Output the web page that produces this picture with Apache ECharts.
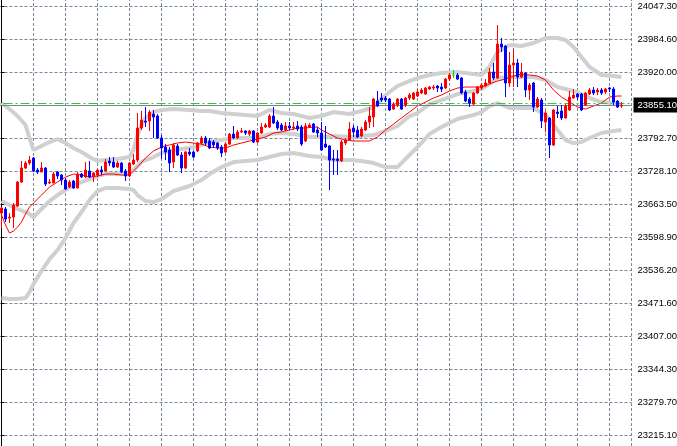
<!DOCTYPE html>
<html><head><meta charset="utf-8">
<script src="https://cdn.jsdelivr.net/npm/echarts@6/dist/echarts.min.js"></script>
<style>html,body{margin:0;padding:0;background:#fff;overflow:hidden}#c{width:677px;height:446px}</style>
</head><body><div id="c"></div>
<script>
// ---- candles (bar index = position in arrays) ----
const opens = [23645.7,23653.5,23636.0,23637.9,23659.3,23705.8,23733.0,23742.7,23752.4,23729.1,
23725.2,23733.0,23703.9,23703.9,23725.2,23719.4,23709.7,23696.1,23707.8,23694.2,
23721.3,23715.5,23727.2,23717.5,23719.4,23729.1,23727.2,23746.6,23744.6,23734.9,
23742.7,23727.2,23717.5,23740.7,23748.5,23810.6,23824.2,23824.2,23837.7,23833.9,
23791.2,23773.7,23767.9,23744.6,23775.7,23758.2,23733.0,23764.0,23764.0,23766.0,
23781.5,23791.2,23785.4,23783.4,23781.5,23773.7,23764.0,23779.5,23798.9,23791.2,
23802.8,23804.8,23798.9,23804.8,23783.4,23800.9,23812.5,23812.5,23833.9,23822.2,
23816.4,23806.7,23814.5,23810.6,23814.5,23812.5,23785.4,23812.5,23818.3,23806.7,
23800.9,23779.5,23775.7,23750.4,23750.4,23746.6,23781.5,23787.3,23810.6,23806.7,
23795.1,23806.7,23822.2,23831.9,23863.0,23868.8,23868.8,23866.8,23847.4,23855.2,
23866.8,23855.2,23868.8,23866.8,23872.7,23878.5,23876.5,23886.3,23888.2,23892.1,
23890.1,23888.2,23905.6,23913.4,23913.4,23907.6,23880.4,23866.8,23857.1,23878.5,
23888.2,23892.1,23897.9,23919.2,23907.6,23973.5,23969.7,23897.9,23932.8,23936.7,
23909.5,23917.3,23884.3,23897.9,23851.3,23864.9,23822.2,23830.0,23777.6,23841.6,
23843.6,23830.0,23845.5,23868.8,23876.5,23876.5,23855.2,23876.5,23884.3,23880.4,
23884.3,23880.4,23888.2,23886.3,23863.0,23853.3];
const closes = [23655.4,23634.0,23637.9,23661.2,23705.8,23733.0,23742.7,23748.5,23727.2,23725.2,
23733.0,23701.9,23705.8,23721.3,23717.5,23709.7,23692.3,23705.8,23694.2,23721.3,
23715.5,23729.1,23715.5,23723.3,23729.1,23725.2,23744.6,23742.7,23734.9,23742.7,
23725.2,23717.5,23742.7,23748.5,23810.6,23826.1,23822.2,23841.6,23831.9,23791.2,
23771.8,23764.0,23742.7,23777.6,23758.2,23733.0,23764.0,23760.1,23754.3,23781.5,
23791.2,23781.5,23771.8,23777.6,23771.8,23762.1,23779.5,23798.9,23791.2,23802.8,
23804.8,23800.9,23804.8,23783.4,23800.9,23812.5,23816.4,23833.9,23820.3,23810.6,
23806.7,23814.5,23810.6,23812.5,23808.6,23779.5,23814.5,23816.4,23802.8,23800.9,
23767.9,23773.7,23748.5,23748.5,23747.5,23783.4,23787.3,23808.6,23802.8,23793.1,
23808.6,23822.2,23833.9,23866.8,23853.3,23864.9,23864.9,23845.5,23857.1,23866.8,
23847.4,23868.8,23874.6,23878.5,23880.4,23884.3,23888.2,23890.1,23890.1,23888.2,
23886.3,23905.6,23913.4,23913.4,23905.6,23878.5,23863.0,23859.1,23878.5,23890.1,
23894.0,23897.9,23919.2,23907.6,23973.5,23967.7,23897.9,23932.8,23936.7,23909.5,
23919.2,23884.3,23894.0,23851.3,23866.8,23824.2,23839.7,23777.6,23845.5,23838.7,
23830.0,23853.3,23870.7,23874.6,23870.7,23845.5,23878.5,23884.3,23878.5,23884.3,
23878.5,23886.3,23886.3,23861.0,23851.3,23855.1];
const lows = [23616.6,23628.2,23626.3,23616.6,23657.3,23703.9,23731.1,23738.8,23725.2,23721.3,
23725.2,23698.1,23701.9,23703.9,23711.6,23700.0,23690.3,23694.2,23692.3,23694.2,
23713.6,23713.6,23713.6,23705.8,23715.5,23719.4,23727.2,23736.9,23733.0,23733.0,
23723.3,23707.8,23715.5,23738.8,23744.6,23806.7,23812.5,23804.8,23791.2,23789.3,
23750.4,23748.5,23725.2,23733.0,23756.3,23723.3,23731.1,23756.3,23752.4,23764.0,
23777.6,23777.6,23769.8,23771.8,23767.9,23754.3,23762.1,23777.6,23789.3,23789.3,
23800.9,23797.0,23795.1,23781.5,23781.5,23798.9,23810.6,23810.6,23818.3,23806.7,
23804.8,23804.8,23806.7,23806.7,23804.8,23775.7,23783.4,23810.6,23800.9,23793.1,
23766.0,23771.8,23690.3,23719.4,23719.4,23744.6,23777.6,23785.4,23793.1,23791.2,
23793.1,23804.8,23810.6,23812.5,23851.3,23861.0,23861.0,23843.6,23845.5,23851.3,
23845.5,23851.3,23864.9,23864.9,23870.7,23876.5,23874.6,23884.3,23884.3,23880.4,
23880.4,23886.3,23901.8,23907.6,23903.7,23876.5,23861.0,23851.3,23855.2,23876.5,
23884.3,23890.1,23896.0,23903.7,23905.6,23958.0,23870.7,23890.1,23890.1,23890.1,
23907.6,23870.7,23864.9,23841.6,23849.4,23810.6,23802.8,23752.4,23775.7,23830.0,
23826.1,23829.0,23843.6,23867.8,23864.9,23843.6,23853.3,23874.6,23874.6,23874.6,
23874.6,23876.5,23880.4,23855.2,23849.4,23849.4];
const highs = [23657.3,23657.3,23645.7,23665.1,23707.8,23746.6,23746.6,23756.3,23754.3,23733.0,
23744.6,23734.9,23711.6,23725.2,23727.2,23721.3,23713.6,23709.7,23709.7,23725.2,
23723.3,23744.6,23746.6,23725.2,23731.1,23736.9,23750.4,23754.3,23754.3,23746.6,
23744.6,23731.1,23744.6,23760.1,23839.7,23843.6,23851.3,23845.5,23845.5,23837.7,
23797.0,23779.5,23773.7,23781.5,23779.5,23764.0,23765.9,23771.8,23766.0,23783.4,
23795.1,23795.1,23791.2,23787.3,23783.4,23777.6,23783.4,23800.9,23814.5,23806.7,
23810.6,23806.7,23806.7,23806.7,23802.8,23820.3,23820.3,23837.7,23851.3,23826.1,
23820.3,23822.2,23822.2,23822.2,23824.2,23816.4,23820.3,23820.3,23820.3,23812.5,
23822.2,23814.5,23777.6,23767.9,23767.9,23787.3,23791.2,23822.2,23816.4,23814.5,
23812.5,23826.1,23851.3,23868.8,23882.4,23878.5,23872.7,23868.8,23861.0,23868.8,
23868.8,23870.7,23878.5,23880.4,23886.3,23888.2,23890.1,23892.1,23894.0,23894.0,
23897.9,23907.6,23917.3,23923.1,23917.3,23909.5,23884.3,23870.7,23880.4,23892.1,
23897.9,23905.6,23927.0,23936.7,24010.4,23985.2,23971.6,23958.0,23963.8,23944.5,
23936.7,23919.2,23897.9,23899.8,23870.7,23868.8,23843.6,23831.9,23847.4,23853.3,
23855.2,23857.1,23882.4,23886.3,23878.5,23878.5,23880.4,23888.2,23890.1,23888.2,
23888.2,23888.2,23890.1,23890.1,23864.9,23861.0];

// ---- red moving average (read at these bar indices) ----
const maIdx = [0,1,2,3,4,5,6,7,8,10,12,14,16,18,20,22,24,26,28,30,32,33,34,
36,38,40,42,44,46,48,50,52,54,56,58,60,62,64,66,68,70,72,74,76,78,79,80,
82,84,86,88,90,92,93,94,96,98,100,102,104,106,108,110,112,114,116,118,120,
122,124,126,128,130,132,134,136,138,140,142,144,146,148,150,152,154,155];
const maVals = [23641.8,23622.4,23606.9,23610.8,23618.5,23628.2,23643.7,23657.3,23665.1,
23680.6,23696.1,23705.8,23715.5,23721.3,23719.4,23715.5,23717.5,23721.3,23721.3,23719.4,23719.4,
23727.2,23734.9,
23752.4,23766.0,23773.7,23777.6,23781.5,23783.4,23781.5,23779.5,23773.7,23771.8,23771.8,23777.6,
23781.5,23785.4,23789.3,23793.1,23800.9,23802.8,23806.7,23810.6,23810.6,23812.5,
23812.5,23806.7,
23798.9,23791.2,23787.3,23785.4,23785.4,23785.4,
23789.3,23793.1,
23806.7,23818.3,23830.0,23841.6,23853.3,23861.0,23868.8,23874.6,23882.4,23888.2,23890.1,23890.1,
23890.1,23896.0,23901.8,23905.6,23911.5,23915.3,23913.4,23911.5,23903.7,23884.3,23870.7,23861.0,
23851.3,23847.4,23853.3,23859.1,23870.7,23872.7,23872.7];

// ---- Bollinger bands (read at these bar indices) ----
const bandIdx = [0,2,4,6,7,8,10,12,14,16,18,20,22,24,26,29,32,33,34,35,36,38,40,43,
47,50,52,55,58,64,67,70,73,77,80,83,87,90,93,96,99,102,104,107,110,114,118,120,122,124,127,
130,133,136,139,141,143,145,147,150,153,155];
const upperVals = [23859.1,23847.4,23833.9,23816.4,23791.2,23767.9,
23775.7,23783.4,23789.3,23781.5,23771.8,23764.0,23754.3,23746.6,23748.5,
23750.4,23754.3,23767.9,23797.0,23816.4,23830.0,23841.6,23845.5,23847.4,
23845.5,23843.6,23843.6,23839.7,23837.7,23833.9,23845.5,23839.7,23837.7,
23830.0,23833.9,23841.6,23837.7,23843.6,23851.3,23874.6,23892.1,23901.8,
23907.6,23913.4,23917.3,23919.2,23915.3,23913.4,23928.9,23958.0,23971.6,
23969.7,23975.5,23985.2,23985.2,23981.3,23967.7,23948.3,23928.9,23913.4,
23911.5,23909.5];
const middleVals = [23668.9,23661.2,23653.5,23647.6,23643.7,23637.9,
23653.5,23668.9,23680.6,23690.3,23700.0,23705.8,23711.6,23717.5,23721.3,
23721.3,23723.3,23729.1,23736.9,23744.6,23748.5,23754.3,23762.1,23767.9,
23771.8,23777.6,23783.4,23787.3,23791.2,23791.2,23798.9,23800.9,23798.9,
23793.1,23793.1,23795.1,23793.1,23795.1,23797.0,23804.8,23814.5,23833.9,
23839.7,23857.1,23864.9,23876.5,23882.4,23886.3,23896.0,23907.6,23909.5,
23909.5,23909.5,23903.7,23890.1,23886.3,23882.4,23876.5,23868.8,23861.0,
23859.1,23857.1];
const lowerVals = [23480.8,23478.9,23478.9,23480.8,23492.4,23507.9,
23533.2,23556.4,23573.9,23597.2,23626.3,23647.6,23670.9,23688.4,23694.2,
23694.2,23692.3,23690.3,23680.6,23674.8,23668.9,23667.0,23672.8,23688.4,
23698.1,23709.7,23721.3,23734.9,23744.6,23748.5,23754.3,23760.1,23762.1,
23756.3,23754.3,23748.5,23748.5,23746.6,23742.7,23734.9,23734.9,23758.2,
23773.7,23798.9,23812.5,23828.1,23835.8,23841.6,23853.3,23859.1,23849.4,
23849.4,23849.4,23835.8,23806.7,23787.3,23781.5,23783.4,23791.2,23800.9,
23804.8,23806.7];

// ---- price axis tick labels (top to bottom) ----
const tickLabels = ['24047.30','23984.60','23920.00','23855.10','23792.70','23728.10','23663.50',
'23598.90','23536.20','23471.60','23407.00','23344.30','23279.70','23215.10'];
const bidPrice = 23855.10;
const askPrice = 23858.5;

// ---- build ----
const topTick = parseFloat(tickLabels[0]);
const bottomTick = parseFloat(tickLabels[tickLabels.length - 1]);
const step = (topTick - bottomTick) / (tickLabels.length - 1);

const candleData = opens.map((o, i) => [i, o, closes[i], lows[i], highs[i]]);
const pairs = (idx, vals) => idx.map((x, k) => [x, vals[k]]);

const FONT = '"Liberation Sans", Arial, sans-serif';
const GRID_COLOR = '#778899';
const BAND_STYLE = { color: '#d0d0d0', width: 4 };

const chart = echarts.init(document.getElementById('c'), null, { renderer: 'canvas' });
chart.setOption({
  animation: false,
  backgroundColor: '#ffffff',
  grid: { left: -30.5, right: 45.5, top: -27, bottom: -22, containLabel: false, outerBoundsMode: 'none' },
  xAxis: {
    type: 'value', min: -8, max: 157.5, interval: 8,
    axisLine: { show: false }, axisTick: { show: false }, axisLabel: { show: false },
    splitLine: { show: true, lineStyle: { color: GRID_COLOR, type: [3, 2], width: 1 } }
  },
  yAxis: {
    type: 'value', position: 'right',
    min: bottomTick - step, max: topTick + step, interval: step,
    axisLine: { show: true, lineStyle: { color: '#000', width: 1 } },
    axisTick: { show: true, inside: false, length: 3, lineStyle: { color: '#000' } },
    axisLabel: {
      margin: 6, color: '#000', fontFamily: FONT, fontSize: 9.5,
      formatter: function (v) {
        const k = Math.round((topTick - v) / step);
        if (k < 0 || k >= tickLabels.length) return '';
        if (Math.abs(v - bidPrice) < step / 2) return '';
        return tickLabels[k];
      }
    },
    splitLine: { show: true, lineStyle: { color: GRID_COLOR, type: [3, 2], width: 1 } }
  },
  series: [
    { type: 'line', name: 'upper', data: pairs(bandIdx, upperVals), showSymbol: false, symbol: 'none',
      lineStyle: BAND_STYLE, z: 2, silent: true },
    { type: 'line', name: 'middle', data: pairs(bandIdx, middleVals), showSymbol: false, symbol: 'none',
      lineStyle: BAND_STYLE, z: 2, silent: true },
    { type: 'line', name: 'lower', data: pairs(bandIdx, lowerVals), showSymbol: false, symbol: 'none',
      lineStyle: BAND_STYLE, z: 2, silent: true },
    { type: 'line', name: 'price lines', data: [], silent: true, z: 3,
      markLine: {
        silent: true, symbol: ['none', 'none'], animation: false,
        data: [
          { yAxis: askPrice, lineStyle: { color: '#32c832', type: [9, 3, 2, 3], width: 1 }, label: { show: false } },
          { yAxis: bidPrice, lineStyle: { color: '#7a8494', type: 'solid', width: 1 },
            label: { show: true, position: 'end', distance: 2, formatter: bidPrice.toFixed(2),
              backgroundColor: '#000', color: '#fff', padding: [3, 5, 2, 4],
              fontFamily: FONT, fontSize: 9.5 } }
        ]
      }
    },
    { type: 'line', name: 'MA', data: pairs(maIdx, maVals), showSymbol: false, symbol: 'none',
      lineStyle: { color: '#ff0000', width: 1 }, z: 4, silent: true },
    { type: 'candlestick', name: 'price', data: candleData, barWidth: 2, z: 5, silent: true,
      itemStyle: { color: '#ff0000', color0: '#0000ff', borderColor: '#ff0000', borderColor0: '#0000ff',
        borderColorDoji: '#00e000', borderWidth: 1 } }
  ]
});
</script>
</body></html>
